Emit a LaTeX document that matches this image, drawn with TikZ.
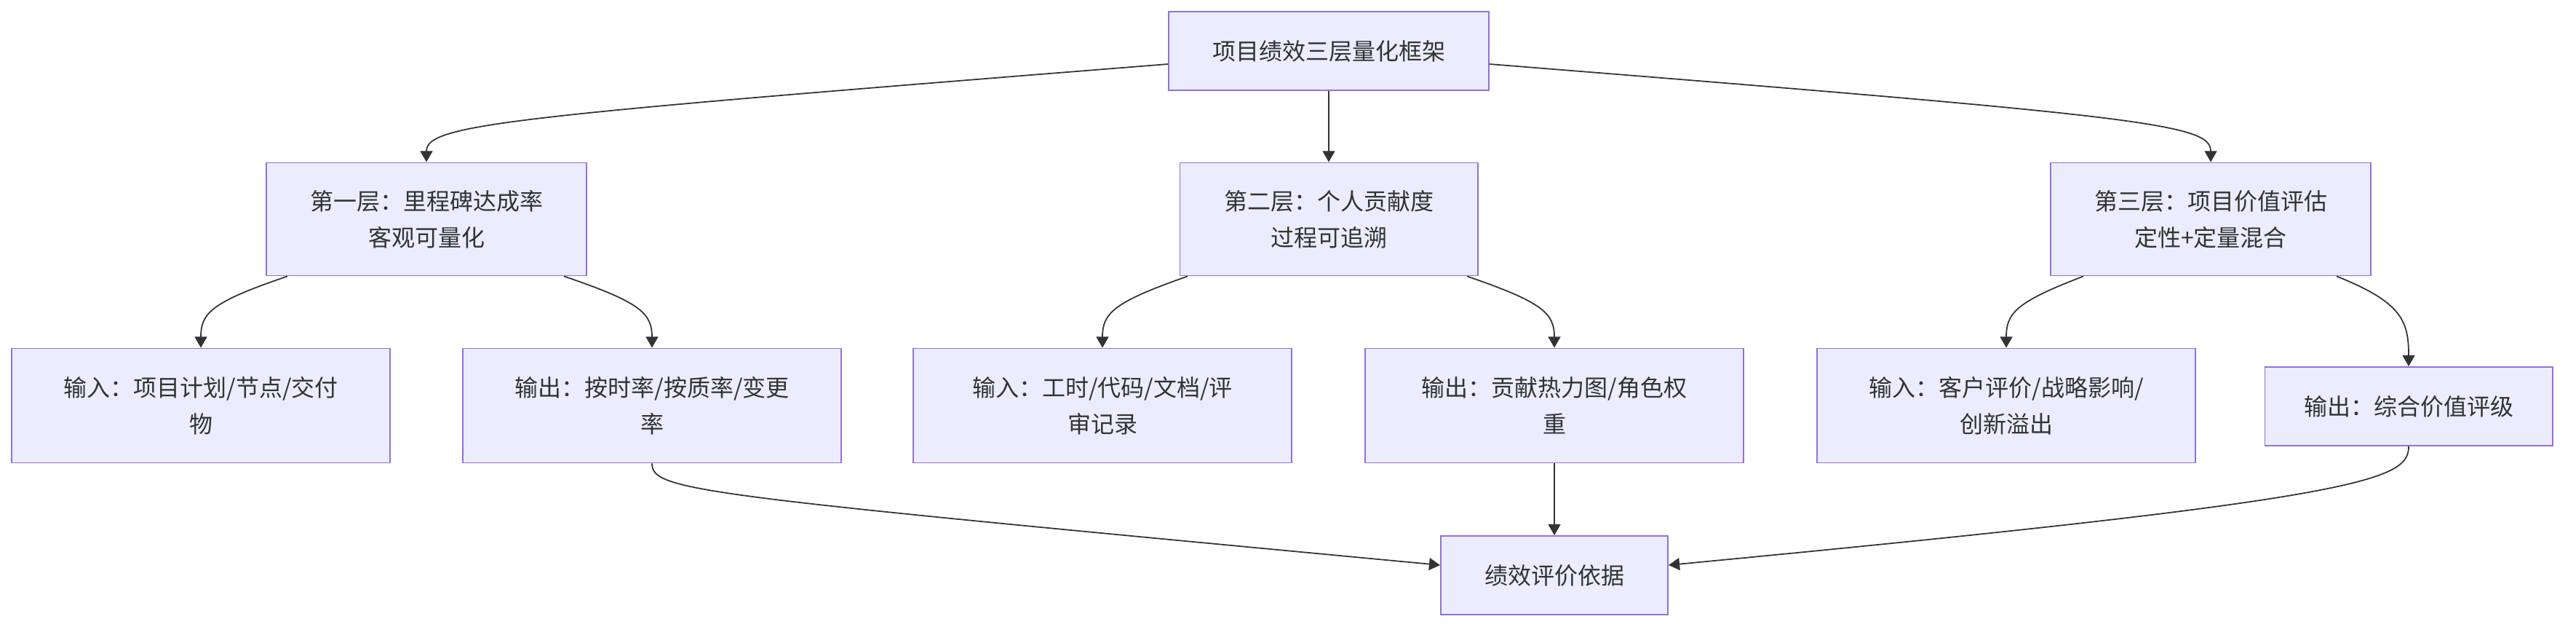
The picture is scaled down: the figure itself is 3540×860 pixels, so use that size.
\documentclass[tikz,border=0pt]{standalone}
\usepackage{fontspec}
\newfontfamily\cjk{Noto Sans CJK SC}
\usepackage{xcolor}
\usetikzlibrary{calc, arrows.meta}
\definecolor{boxfill}{HTML}{ECECFF}
\definecolor{boxline}{HTML}{9370DB}
\definecolor{linkc}{HTML}{333333}
\begin{document}
\begin{tikzpicture}[x=0.01cm, y=-0.01cm,
    box/.style={draw=boxline, fill=boxfill, line width=0.5pt, align=center, inner sep=0pt, text=linkc, font=\cjk\fontsize{9.1}{14.2}\selectfont},
    link/.style={draw=linkc, line width=0.5pt, -{Triangle[length=4.3pt,width=4.8pt]}}]
            \useasboundingbox (0,0) rectangle (3540,860);
            \node[box, minimum width=4.4cm, minimum height=1.08cm] (top) at (1826,70) {项目绩效三层量化框架};
            \node[box, minimum width=4.4cm, minimum height=1.55cm] (layer1) at (586,301) {第一层：里程碑达成率\\客观可量化};
            \node[box, minimum width=4.09cm, minimum height=1.55cm] (layer2) at (1826,301) {第二层：个人贡献度\\过程可追溯};
            \node[box, minimum width=4.4cm, minimum height=1.55cm] (layer3) at (3038,301) {第三层：项目价值评估\\定性+定量混合};
            \node[box, minimum width=5.2cm, minimum height=1.57cm] (in1) at (276,557) {输入：项目计划/节点/交付\\物};
            \node[box, minimum width=5.2cm, minimum height=1.57cm] (out1) at (896,557) {输出：按时率/按质率/变更\\率};
            \node[box, minimum width=5.2cm, minimum height=1.57cm] (in2) at (1515,557) {输入：工时/代码/文档/评\\审记录};
            \node[box, minimum width=5.2cm, minimum height=1.57cm] (out2) at (2136,557) {输出：贡献热力图/角色权\\重};
            \node[box, minimum width=5.2cm, minimum height=1.57cm] (in3) at (2757,557) {输入：客户评价/战略影响/\\创新溢出};
            \node[box, minimum width=3.95cm, minimum height=1.08cm] (out3) at (3310,558) {输出：综合价值评级};
            \node[box, minimum width=3.12cm, minimum height=1.08cm] (basis) at (2136,790) {绩效评价依据};
            \draw[link] ([yshift=-0.18cm]top.west) .. controls (700,160) and (586,170) .. (layer1.north);
            \draw[link] (top.south) -- (layer2.north);
            \draw[link] ([yshift=-0.18cm]top.east) .. controls (2950,160) and (3038,170) .. (layer3.north);
            \draw[link] ([xshift=-1.91cm]layer1.south) .. controls (290,415) and (276,430) .. (in1.north);
            \draw[link] ([xshift=1.89cm]layer1.south) .. controls (880,415) and (896,430) .. (out1.north);
            \draw[link] ([xshift=-1.94cm]layer2.south) .. controls (1530,415) and (1515,430) .. (in2.north);
            \draw[link] ([xshift=1.9cm]layer2.south) .. controls (2120,415) and (2136,430) .. (out2.north);
            \draw[link] ([xshift=-1.75cm]layer3.south) .. controls (2770,415) and (2757,430) .. (in3.north);
            \draw[link] ([xshift=1.73cm]layer3.south) .. controls (3300,415) and (3310,440) .. (out3.north);
            \draw[link] (out1.south) .. controls (896,675) and (960,680) .. ([yshift=0.14cm]basis.west);
            \draw[link] (out2.south) -- (basis.north);
            \draw[link] (out3.south) .. controls (3310,660) and (3250,685) .. ([yshift=0.14cm]basis.east);
        \end{tikzpicture}
\end{document}
